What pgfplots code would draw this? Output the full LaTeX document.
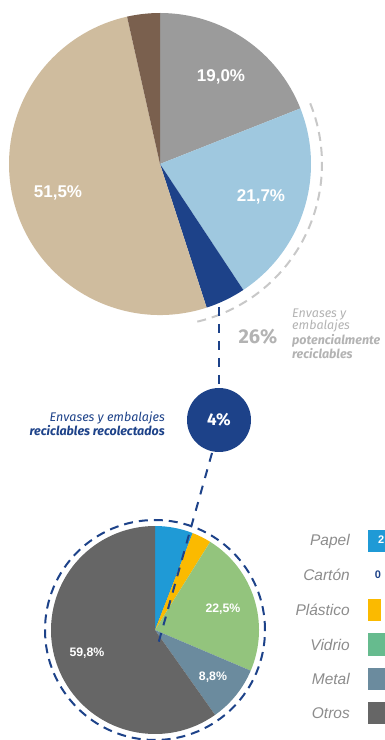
\documentclass[border=0pt]{standalone}
\usepackage{fontspec}
\setmainfont{Liberation Sans}
\newfontfamily\fira{Fira Sans}
\usepackage{pgfplots}
\pgfplotsset{compat=1.18}
\usepackage{pgfplotstable}

\definecolor{cGray}{HTML}{9B9B9B}
\definecolor{cLBlue}{HTML}{9FC8DF}
\definecolor{cDBlue}{HTML}{1D4289}
\definecolor{cTan}{HTML}{CFBC9E}
\definecolor{cBrown}{HTML}{7A604E}
\definecolor{cPapel}{HTML}{1F9AD6}
\definecolor{cCarton}{HTML}{1D4289}
\definecolor{cPlastico}{HTML}{FBBA00}
\definecolor{cVidrio}{HTML}{93C47D}
\definecolor{cVidrioL}{HTML}{66BB8E}
\definecolor{cMetal}{HTML}{6B8B9E}
\definecolor{cOtros}{HTML}{666666}
\definecolor{cAnnot}{HTML}{B3B3B3}
\definecolor{cLeg}{HTML}{8C8C8C}
\definecolor{cArc}{HTML}{C8C8C8}

% top pie: share of packaging (percent)
\pgfplotstableread{
value color
19.0 cGray
21.7 cLBlue
4.3 cDBlue
51.5 cTan
3.5 cBrown
}\toppie

% bottom pie: composition of collected packaging (percent)
\pgfplotstableread{
value color
5.9 cPapel
0.0 cCarton
3.0 cPlastico
22.5 cVidrio
8.8 cMetal
59.8 cOtros
}\botpie

\newcommand\drawpie[4]{%
  \pgfplotstablegetrowsof{#1}\let\nrows\pgfplotsretval
  \def\cum{0}%
  \pgfplotsforeachungrouped \i in {1,...,\nrows} {%
    \pgfmathtruncatemacro\row{\i-1}%
    \pgfplotstablegetelem{\row}{value}\of{#1}\let\val\pgfplotsretval
    \pgfplotstablegetelem{\row}{color}\of{#1}\let\col\pgfplotsretval
    \pgfmathsetmacro\sa{90-3.6*\cum}%
    \pgfmathsetmacro\ea{90-3.6*(\cum+\val)}%
    \pgfmathsetmacro\cum{\cum+\val}%
    \edef\temp{\noexpand\fill[\col] (axis cs:#2,#3) -- ++(\sa:#4pt) arc[start angle=\sa, end angle=\ea, radius=#4pt] -- cycle;}%
    \temp
  }%
}

\begin{document}
\begin{tikzpicture}
\begin{axis}[
  at={(0,0)}, anchor=south west,
  hide axis, scale only axis,
  x=1pt, y=1pt,
  xmin=0, xmax=385, ymin=0, ymax=740,
  clip=true,
]
% top pie
\drawpie{\toppie}{160}{576}{151}
\node[white, font=\bfseries\fontsize{17}{20}\selectfont] at (axis cs:221,663) {19,0\%};
\node[white, font=\bfseries\fontsize{17}{20}\selectfont] at (axis cs:261,543) {21,7\%};
\node[white, font=\bfseries\fontsize{17}{20}\selectfont] at (axis cs:58,547) {51,5\%};
% gray dashed arc around potentially recyclable
\draw[cArc, line width=2pt, dash pattern=on 9pt off 6pt] (axis cs:160,576) ++(22:162pt) arc[start angle=22, end angle=-77, radius=162pt];
% annotation right
\node[cAnnot, font=\fira\bfseries\fontsize{20}{22}\selectfont] at (axis cs:258,403) {26\%};
\node[cAnnot, anchor=base west, inner sep=0pt, font=\fira\itshape\fontsize{12.5}{14}\selectfont] at (axis cs:292,422.5) {Envases y};
\node[cAnnot, anchor=base west, inner sep=0pt, font=\fira\itshape\fontsize{12.5}{14}\selectfont] at (axis cs:292,410) {embalajes};
\node[cAnnot, anchor=base west, inner sep=0pt, font=\fira\bfseries\itshape\fontsize{12.5}{14}\selectfont] at (axis cs:292,395) {potencialmente};
\node[cAnnot, anchor=base west, inner sep=0pt, font=\fira\bfseries\itshape\fontsize{12.5}{14}\selectfont] at (axis cs:292,381) {reciclables};
% vertical dashed connector
\draw[cDBlue, line width=2pt, dash pattern=on 9pt off 8pt] (axis cs:219,433) -- (axis cs:219,352);
% circle 4%
\fill[cDBlue] (axis cs:219,320) circle[radius=32pt];
\node[white, font=\fira\bfseries\fontsize{17}{20}\selectfont] at (axis cs:219,320) {4\%};
% annotation left
\node[cDBlue, anchor=base east, inner sep=0pt, font=\fira\itshape\fontsize{12.5}{15}\selectfont] at (axis cs:165,318.5) {Envases y embalajes};
\node[cDBlue, anchor=base east, inner sep=0pt, font=\fira\bfseries\itshape\fontsize{12.5}{15}\selectfont] at (axis cs:165,304.5) {reciclables recolectados};
% bottom pie
\drawpie{\botpie}{155}{110}{104}
\node[white, font=\bfseries\fontsize{12.3}{14}\selectfont] at (axis cs:223,131) {22,5\%};
\node[white, font=\bfseries\fontsize{12.3}{14}\selectfont] at (axis cs:213,63) {8,8\%};
\node[white, font=\bfseries\fontsize{12.3}{14}\selectfont] at (axis cs:87,87) {59,8\%};
% dashed circle
\draw[cDBlue, line width=2pt, dash pattern=on 9pt off 6pt] (axis cs:155,110) circle[radius=110pt];
% dashed connector to bottom pie
\draw[cDBlue, line width=2pt, dash pattern=on 9pt off 8pt] (axis cs:212,287) -- (axis cs:157,92);
% legend / bars (clipped at right edge)
\addplot[fill=cPapel, draw=none] coordinates {(368,188) (430,188) (430,210) (368,210)};
\addplot[fill=cPlastico, draw=none] coordinates {(368,119) (381,119) (381,141) (368,141)};
\addplot[fill=cVidrioL, draw=none] coordinates {(368,84) (430,84) (430,107) (368,107)};
\addplot[fill=cMetal, draw=none] coordinates {(368,50) (430,50) (430,72) (368,72)};
\addplot[fill=cOtros, draw=none] coordinates {(368,16) (430,16) (430,38) (368,38)};
\node[white, anchor=west, inner sep=0pt, font=\bfseries\fontsize{11}{13}\selectfont] at (axis cs:378,199) {2,3\%};
\node[cDBlue, font=\bfseries\fontsize{11}{13}\selectfont] at (axis cs:378,165) {0};
\node[cLeg, anchor=east, inner sep=0pt, font=\itshape\fontsize{15.5}{18}\selectfont] at (axis cs:350,199) {Papel};
\node[cLeg, anchor=east, inner sep=0pt, font=\itshape\fontsize{15.5}{18}\selectfont] at (axis cs:350,165) {Cartón};
\node[cLeg, anchor=east, inner sep=0pt, font=\itshape\fontsize{15.5}{18}\selectfont] at (axis cs:350,130) {Plástico};
\node[cLeg, anchor=east, inner sep=0pt, font=\itshape\fontsize{15.5}{18}\selectfont] at (axis cs:350,95.5) {Vidrio};
\node[cLeg, anchor=east, inner sep=0pt, font=\itshape\fontsize{15.5}{18}\selectfont] at (axis cs:350,61) {Metal};
\node[cLeg, anchor=east, inner sep=0pt, font=\itshape\fontsize{15.5}{18}\selectfont] at (axis cs:350,27) {Otros};
\end{axis}
\pgfresetboundingbox
\path[use as bounding box] (0,0) rectangle (385pt,740pt);
\end{tikzpicture}
\end{document}
